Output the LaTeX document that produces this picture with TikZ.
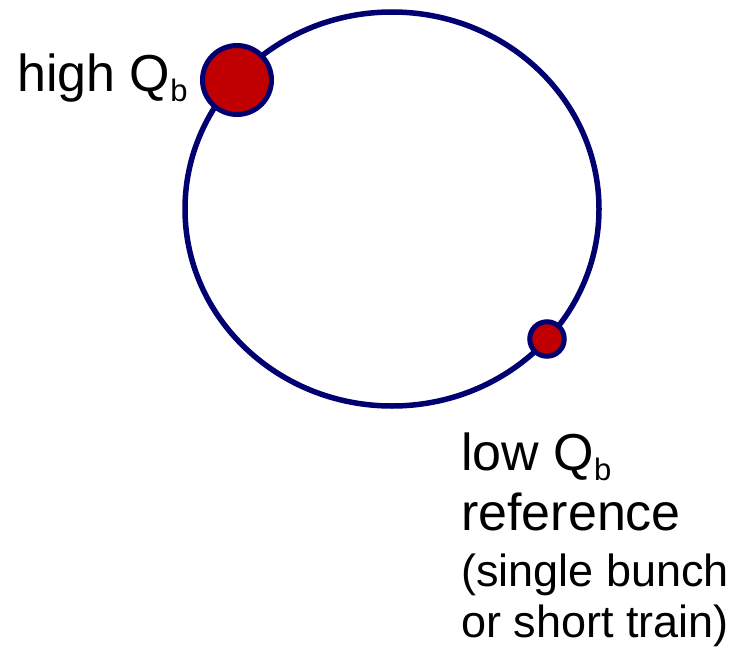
\documentclass[tikz,border=0pt]{standalone}
\usepackage{fontspec}
\setmainfont{Liberation Sans}
\usetikzlibrary{positioning}

\definecolor{ringblue}{RGB}{0,0,112}
\definecolor{bunchred}{RGB}{192,0,0}
\newcommand{\Qb}{Q\raisebox{-10pt}{\fontsize{31}{32}\selectfont b}}

\begin{document}
\begin{tikzpicture}[
    x=1pt, y=-1pt,
    ring/.style={draw=ringblue, line width=5.5pt},
    bunch/.style={circle, draw=ringblue, fill=bunchred, line width=5pt, inner sep=0pt},
    biglabel/.style={anchor=base west, inner sep=0pt, font=\fontsize{52}{60}\selectfont},
    smalllabel/.style={anchor=base west, inner sep=0pt, font=\fontsize{45}{54}\selectfont}
  ]
  \useasboundingbox (0,0) rectangle (746,650);
  % ring
  \draw[ring] (392,209) ellipse (207pt and 197pt);
  % bunches
  \node[bunch, minimum size=69pt] (high) at (237,80) {};
  \node[bunch, minimum size=34.5pt] (low) at (547,339) {};
  % labels
  \node[biglabel] (highlbl) at (17,92) {high \Qb};
  \node[biglabel] (lowlbl) at (461,470) {low \Qb};
  \node[biglabel] (reflbl) at (461,530) {reference};
  \node[smalllabel] (singlelbl) at (461,586) {(single bunch};
  \node[smalllabel] (trainlbl) at (461,637) {or short train)};
\end{tikzpicture}
\end{document}
